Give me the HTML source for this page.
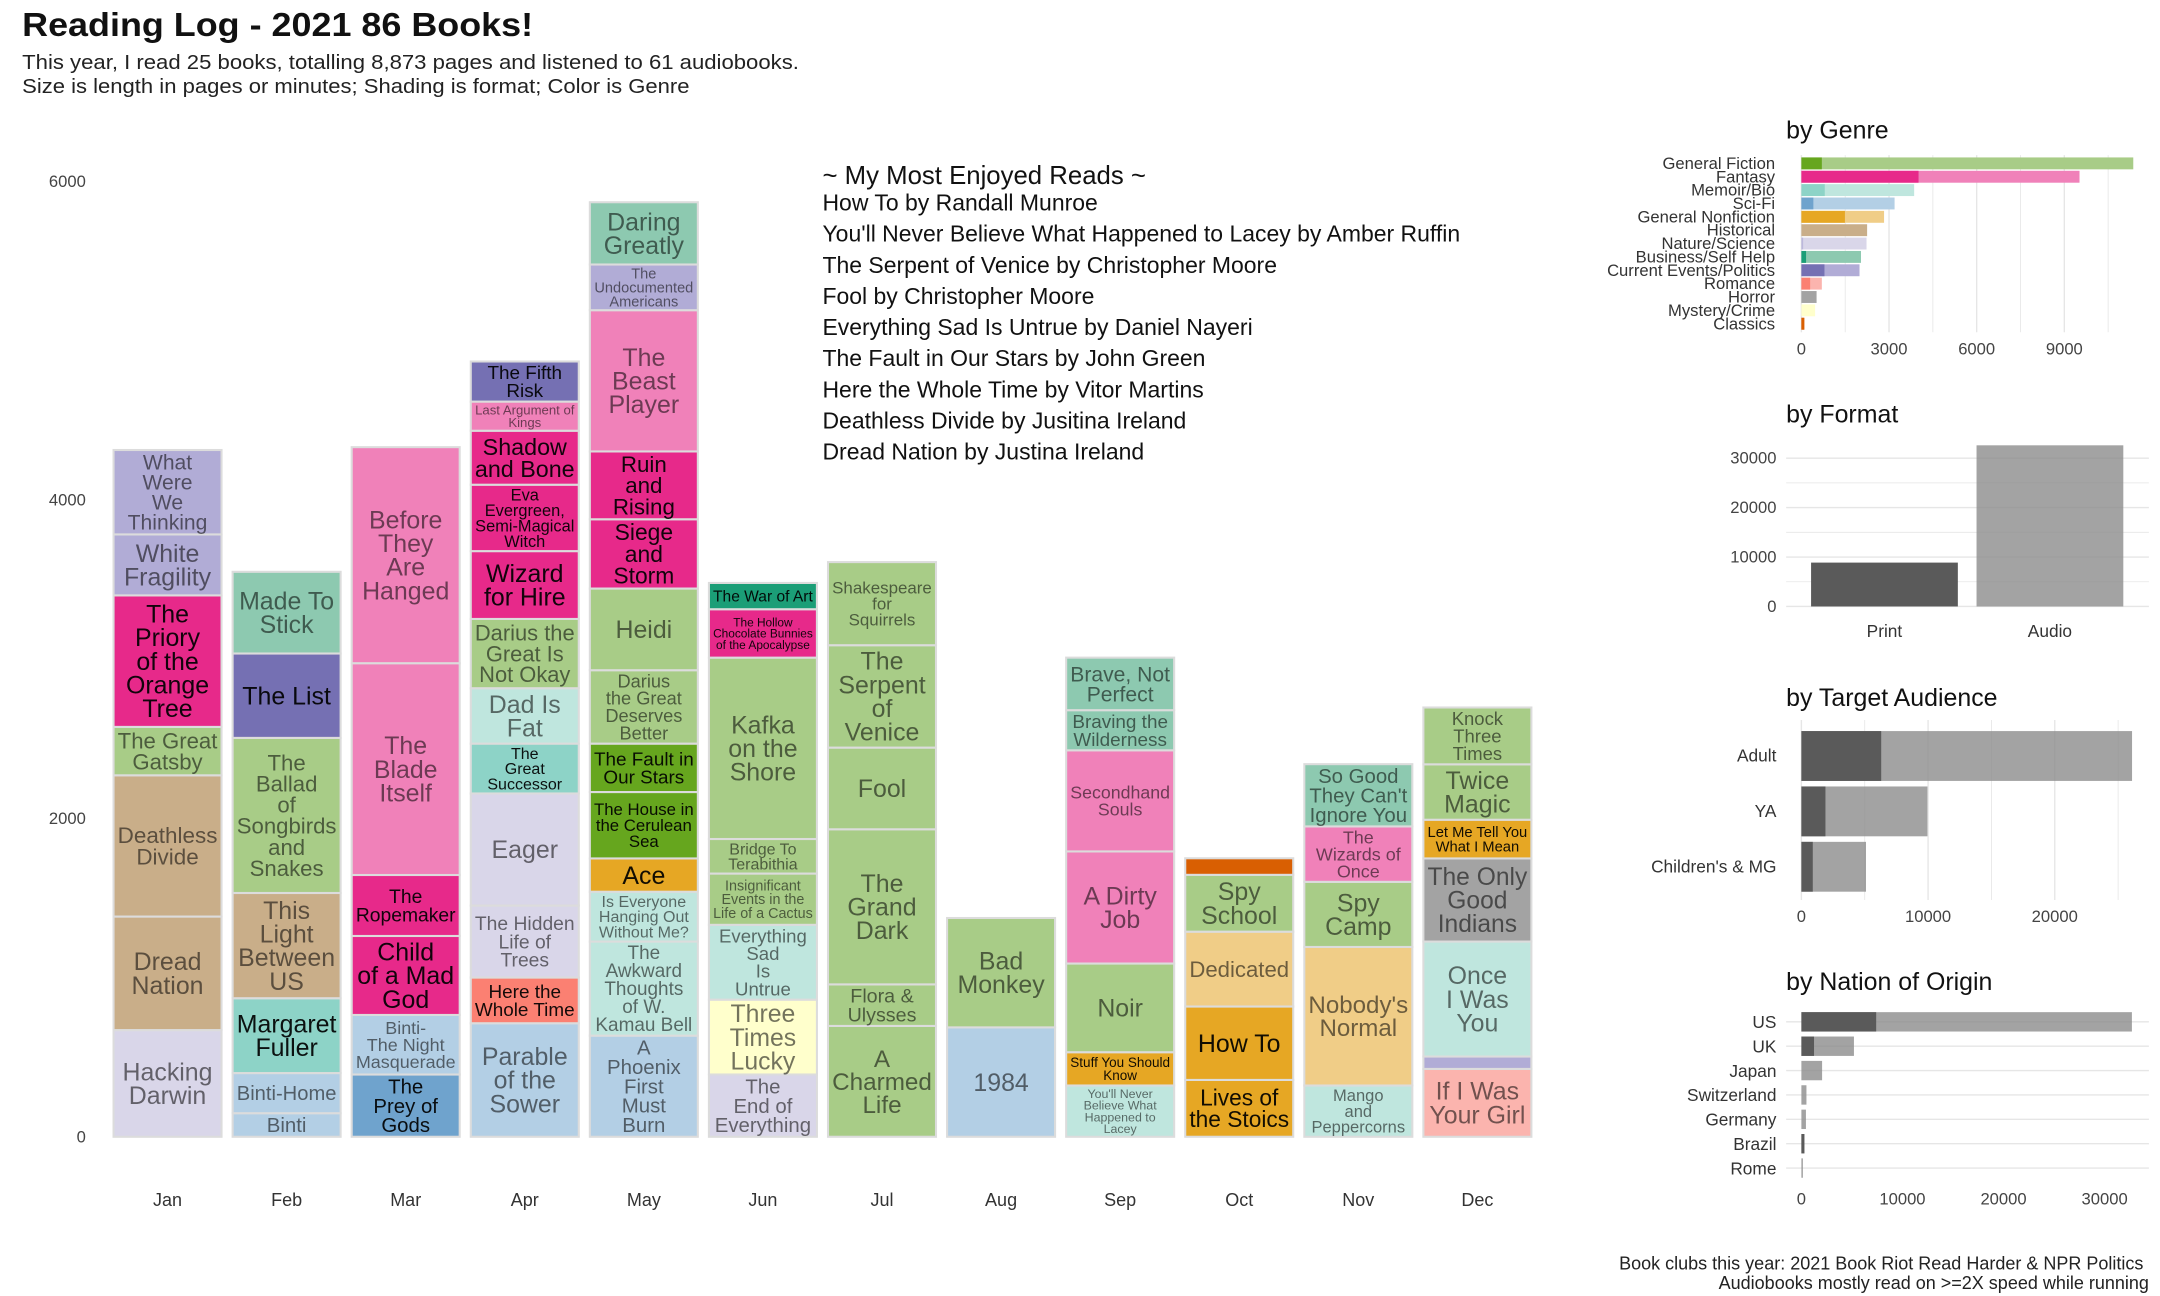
<!DOCTYPE html>
<html><head><meta charset="utf-8"><title>Reading Log 2021</title>
<style>
html,body{margin:0;padding:0;background:#fff;}
svg{display:block;font-family:"Liberation Sans",sans-serif;}
</style></head>
<body>
<svg id="root" width="2160" height="1296" viewBox="0 0 1560 936" xmlns="http://www.w3.org/2000/svg">
  <text x="16" y="26" font-size="24" font-weight="bold" fill="#111" textLength="369" lengthAdjust="spacingAndGlyphs">Reading Log - 2021 86 Books!</text>
  <text x="16" y="50" font-size="15" fill="#222" textLength="561" lengthAdjust="spacingAndGlyphs">This year, I read 25 books, totalling 8,873 pages and listened to 61 audiobooks.</text>
  <text x="16" y="67" font-size="15" fill="#222" textLength="482" lengthAdjust="spacingAndGlyphs">Size is length in pages or minutes; Shading is format; Color is Genre</text>
  <g id="main"></g>
  <g id="enjoyed"></g>
  <g id="genre"></g>
  <g id="format"></g>
  <g id="audience"></g>
  <g id="nation"></g>
  <text x="1548" y="917" font-size="13" fill="#222" text-anchor="end">Book clubs this year: 2021 Book Riot Read Harder &amp; NPR Politics</text>
  <text x="1552" y="931" font-size="13" fill="#222" text-anchor="end">Audiobooks mostly read on &gt;=2X speed while running</text>
</svg>
<script>
// ---------- main chart data ----------
const months = ["Jan","Feb","Mar","Apr","May","Jun","Jul","Aug","Sep","Oct","Nov","Dec"];
const yTicks = [0,2000,4000,6000];
const bookMonth = [
0,0,0,0,0,0,0,
1,1,1,1,1,1,1,
2,2,2,2,2,2,
3,3,3,3,3,3,3,3,3,3,3,3,
4,4,4,4,4,4,4,4,4,4,4,4,4,
5,5,5,5,5,5,5,5,
6,6,6,6,6,6,
7,7,
8,8,8,8,8,8,8,
9,9,9,9,9,
10,10,10,10,10,
11,11,11,11,11,11,11];
const bookTitle = [
"Hacking\nDarwin","Dread\nNation","Deathless\nDivide","The Great\nGatsby","The\nPriory\nof the\nOrange\nTree","White\nFragility","What\nWere\nWe\nThinking",
"Binti","Binti-Home","Margaret\nFuller","This\nLight\nBetween\nUS","The\nBallad\nof\nSongbirds\nand\nSnakes","The List","Made To\nStick",
"The\nPrey of\nGods","Binti-\nThe Night\nMasquerade","Child\nof a Mad\nGod","The\nRopemaker","The\nBlade\nItself","Before\nThey\nAre\nHanged",
"Parable\nof the\nSower","Here the\nWhole Time","The Hidden\nLife of\nTrees","Eager","The\nGreat\nSuccessor","Dad Is\nFat","Darius the\nGreat Is\nNot Okay","Wizard\nfor Hire","Eva\nEvergreen,\nSemi-Magical\nWitch","Shadow\nand Bone","Last Argument of\nKings","The Fifth\nRisk",
"A\nPhoenix\nFirst\nMust\nBurn","The\nAwkward\nThoughts\nof W.\nKamau Bell","Is Everyone\nHanging Out\nWithout Me?","Ace","The House in\nthe Cerulean\nSea","The Fault in\nOur Stars","Darius\nthe Great\nDeserves\nBetter","Heidi","Siege\nand\nStorm","Ruin\nand\nRising","The\nBeast\nPlayer","The\nUndocumented\nAmericans","Daring\nGreatly",
"The\nEnd of\nEverything","Three\nTimes\nLucky","Everything\nSad\nIs\nUntrue","Insignificant\nEvents in the\nLife of a Cactus","Bridge To\nTerabithia","Kafka\non the\nShore","The Hollow\nChocolate Bunnies\nof the Apocalypse","The War of Art",
"A\nCharmed\nLife","Flora &\nUlysses","The\nGrand\nDark","Fool","The\nSerpent\nof\nVenice","Shakespeare\nfor\nSquirrels",
"1984","Bad\nMonkey",
"You'll Never\nBelieve What\nHappened to\nLacey","Stuff You Should\nKnow","Noir","A Dirty\nJob","Secondhand\nSouls","Braving the\nWilderness","Brave, Not\nPerfect",
"Lives of\nthe Stoics","How To","Dedicated","Spy\nSchool","",
"Mango\nand\nPeppercorns","Nobody's\nNormal","Spy\nCamp","The\nWizards of\nOnce","So Good\nThey Can't\nIgnore You",
"If I Was\nYour Girl","","Once\nI Was\nYou","The Only\nGood\nIndians","Let Me Tell You\nWhat I Mean","Twice\nMagic","Knock\nThree\nTimes"];
const bookPages = [
670,713,887,304,826,383,530,
148,252,470,661,974,530,513,
391,374,496,383,1330,1357,
713,287,452,704,313,348,435,426,417,339,183,252,
635,591,313,209,417,304,461,513,435,426,887,287,391,
391,470,470,322,217,1139,304,165,
696,261,974,513,643,522,
687,687,
322,209,557,704,635,252,330,
357,461,470,357,104,
322,870,409,348,391,
426,78,722,522,243,348,357];
const bookGenre = [
"nat","hist","hist","gf","fan","cur","cur",
"sci","sci","mem","hist","gf","cur","bus",
"sci","sci","fan","fan","fan","fan",
"sci","rom","nat","nat","mem","mem","gf","fan","fan","fan","fan","cur",
"sci","mem","mem","gnf","gf","gf","gf","gf","fan","fan","fan","cur","bus",
"nat","mys","mem","gf","gf","gf","fan","bus",
"gf","gf","gf","gf","gf","gf",
"sci","gf",
"mem","gnf","gf","fan","fan","bus","bus",
"gnf","gnf","gnf","gf","cla",
"mem","gnf","gf","fan","bus",
"rom","cur","mem","hor","gnf","gf","gf"];
const bookFormat = [
"A","A","A","A","P","A","A",
"A","A","P","A","A","P","A",
"P","A","P","P","A","A",
"A","P","A","A","P","A","A","P","P","P","A","P",
"A","A","A","P","P","P","A","A","P","P","A","A","A",
"A","A","A","A","A","A","P","P",
"A","A","A","A","A","A",
"A","A",
"A","P","A","A","A","A","A",
"P","P","A","A","P",
"A","A","A","A","A",
"A","A","A","A","P","A","A"];
const genreColor = {
 gf:["#66a61e","#a8cc87"], fan:["#e7298a","#f081b9"], mem:["#8dd3c7","#bfe6de"], sci:["#6fa3cd","#b3cfe5"],
 gnf:["#e6a724","#f0cd87"], hist:["#b5986a","#c9ae89"], nat:["#bcb8db","#d9d6e9"], bus:["#1b9e77","#8dc9b0"],
 cur:["#7570b3","#b1acd6"], rom:["#fb8072","#fbb4ae"], hor:["#777777","#a3a3a3"], mys:["#ffffb3","#ffffcc"], cla:["#d95f02","#e8864a"]
};

// ---------- side panel data ----------
const genreNames = ["General Fiction","Fantasy","Memoir/Bio","Sci-Fi","General Nonfiction","Historical","Nature/Science","Business/Self Help","Current Events/Politics","Romance","Horror","Mystery/Crime","Classics"];
const genreKeys = ["gf","fan","mem","sci","gnf","hist","nat","bus","cur","rom","hor","mys","cla"];
const genrePrint = [700,4010,800,410,1490,0,60,160,790,300,0,0,100];
const genreTotal = [11360,9520,3860,3190,2830,2250,2230,2040,1990,700,520,470,100];
const genreTicks = [0,3000,6000,9000];
const formatNames = ["Print","Audio"];
const formatValues = [8873,32600];
const formatTicks = [0,10000,20000,30000];
const audienceNames = ["Adult","YA","Children's & MG"];
const audiencePrint = [6300,1900,900];
const audienceTotal = [26100,9950,5100];
const audienceTicks = [0,10000,20000];
const nationNames = ["US","UK","Japan","Switzerland","Germany","Brazil","Rome"];
const nationPrint = [7400,1250,0,0,0,300,0];
const nationTotal = [32700,5200,2050,500,450,300,150];
const nationTicks = [0,10000,20000,30000];
const enjoyed = ["How To by Randall Munroe","You'll Never Believe What Happened to Lacey by Amber Ruffin","The Serpent of Venice by Christopher Moore","Fool by Christopher Moore","Everything Sad Is Untrue by Daniel Nayeri","The Fault in Our Stars by John Green","Here the Whole Time by Vitor Martins","Deathless Divide by Jusitina Ireland","Dread Nation by Justina Ireland"];

const NS="http://www.w3.org/2000/svg";
function mk(tag, attrs, parent){const e=document.createElementNS(NS,tag);for(const k in attrs)e.setAttribute(k,attrs[k]);parent.appendChild(e);return e;}

// ---------- main chart ----------
const main=document.getElementById('main');
const y0=821, pxPer=0.115;
const yScale=v=>y0-v*pxPer;
const xCenter=i=>121+i*86;
const barW=78;
yTicks.forEach(t=>{
  const e=mk('text',{x:62,y:yScale(t)+4,'font-size':12,fill:'#444','text-anchor':'end'},main);
  
  
  e.textContent=t;
});
months.forEach((m,i)=>{
  const e=mk('text',{x:xCenter(i),y:871,'font-size':13,fill:'#333','text-anchor':'middle'},main);
  
  
  e.textContent=m;
});
const cum=new Array(months.length).fill(0);
bookTitle.forEach((title,i)=>{
  const m=bookMonth[i];
  const base=cum[m], top=base+bookPages[i];
  cum[m]=top;
  const yT=yScale(top), yB=yScale(base), h=yB-yT;
  const x=xCenter(m)-barW/2;
  const col=genreColor[bookGenre[i]][bookFormat[i]==="P"?0:1];
  const r=mk('rect',{x:x,y:yT,width:barW,height:h,fill:col,stroke:'#dcdcdc','stroke-width':1.5},main);
  
  
  if(!title) return;
  const lines=title.split("\n");
  const g=mk('text',{'text-anchor':'middle',fill:'#000','fill-opacity':bookFormat[i]==="P"?0.92:0.55,'font-size':10},main);
  
  
  const tspans=lines.map(l=>{const t=mk('tspan',{x:xCenter(m)},g);t.textContent=l;return t;});
  let maxW=0;tspans.forEach(t=>{maxW=Math.max(maxW,t.getComputedTextLength());});
  const lh=0.95;
  let fs=Math.min(18,(barW-6)/maxW*10,(h-3)/(lines.length*lh));
  fs=Math.max(fs,5);
  g.setAttribute('font-size',fs.toFixed(2));
  const cy=(yT+yB)/2;
  const startY=cy-(lines.length-1)*lh*fs/2+fs*0.35;
  tspans.forEach((t,k)=>t.setAttribute('y',(startY+k*lh*fs).toFixed(2)));
});

// ---------- enjoyed list ----------
const enj=document.getElementById('enjoyed');
const hd=mk('text',{x:594,y:133,'font-size':18.6,fill:'#111'},enj);


hd.textContent="~ My Most Enjoyed Reads ~";
enjoyed.forEach((s,i)=>{
  const e=mk('text',{x:594,y:152+i*22.5,'font-size':16.6,fill:'#111'},enj);
  
  
  e.textContent=s;
});

function panelTitle(g,txt,y){const e=mk('text',{x:1290,y:y,'font-size':18,fill:'#111'},g);
  
  
  e.textContent=txt;}

// ---------- genre panel ----------
(function(){
  const g=document.getElementById('genre');
  panelTitle(g,"by Genre",100);
  const x0=1301, k=63.3/3000;
  const gx=v=>x0+v*k;
  for(let v=0;v<=10500;v+=1500){mk('line',{x1:gx(v),x2:gx(v),y1:112,y2:240,stroke:'#e6e6e6','stroke-width':v%3000===0?1:0.6},g);}
  genreTicks.forEach(t=>{const e=mk('text',{x:gx(t),y:256,'font-size':12,fill:'#444','text-anchor':'middle'},g);
    
    
    e.textContent=t;});
  genreNames.forEach((n,i)=>{
    const cy=118+i*9.65;
    const l=mk('text',{x:1282,y:cy+4,'font-size':12,fill:'#333','text-anchor':'end'},g);
    
    
    l.textContent=n;
    const c=genreColor[genreKeys[i]];
    const a=mk('rect',{x:gx(0),y:cy-4.3,width:gx(genreTotal[i])-gx(0),height:8.6,fill:c[1]},g);
    
    
    const p=mk('rect',{x:gx(0),y:cy-4.3,width:gx(genrePrint[i])-gx(0),height:8.6,fill:c[0]},g);
    
    
  });
})();

// ---------- format panel ----------
(function(){
  const g=document.getElementById('format');
  panelTitle(g,"by Format",305);
  const fy=v=>438-v*0.00357;
  for(let v=0;v<=30000;v+=5000){mk('line',{x1:1290,x2:1552,y1:fy(v),y2:fy(v),stroke:'#e6e6e6','stroke-width':v%10000===0?1:0.6},g);}
  formatTicks.forEach(t=>{const e=mk('text',{x:1283,y:fy(t)+4,'font-size':12,fill:'#444','text-anchor':'end'},g);
    
    
    e.textContent=t;});
  formatNames.forEach((n,i)=>{
    const cx=1361+i*119.5;
    const r=mk('rect',{x:cx-53,y:fy(formatValues[i]),width:106,height:fy(0)-fy(formatValues[i]),fill:i===0?'#5a5a5a':'#8c8c8c','fill-opacity':i===0?1:0.8},g);
    
    
    const l=mk('text',{x:cx,y:460,'font-size':12.5,fill:'#333','text-anchor':'middle'},g);
    
    
    l.textContent=n;
  });
})();

// ---------- audience panel ----------
(function(){
  const g=document.getElementById('audience');
  panelTitle(g,"by Target Audience",510);
  const ax=v=>1301+v*0.00915;
  for(let v=0;v<=25000;v+=5000){mk('line',{x1:ax(v),x2:ax(v),y1:520,y2:650,stroke:'#e6e6e6','stroke-width':v%10000===0?1:0.6},g);}
  audienceTicks.forEach(t=>{const e=mk('text',{x:ax(t),y:666,'font-size':12,fill:'#444','text-anchor':'middle'},g);
    
    
    e.textContent=t;});
  audienceNames.forEach((n,i)=>{
    const cy=546+i*40;
    const l=mk('text',{x:1283,y:cy+4,'font-size':12.5,fill:'#333','text-anchor':'end'},g);
    
    
    l.textContent=n;
    const a=mk('rect',{x:ax(0),y:cy-18,width:ax(audienceTotal[i])-ax(0),height:36,fill:'#8c8c8c','fill-opacity':0.8},g);
    
    
    const p=mk('rect',{x:ax(0),y:cy-18,width:ax(audiencePrint[i])-ax(0),height:36,fill:'#5a5a5a'},g);
    
    
  });
})();

// ---------- nation panel ----------
(function(){
  const g=document.getElementById('nation');
  panelTitle(g,"by Nation of Origin",715);
  const nx=v=>1301+v*0.0073;
  nationTicks.forEach(t=>{const e=mk('text',{x:nx(t),y:870,'font-size':12,fill:'#444','text-anchor':'middle'},g);
    
    
    e.textContent=t;});
  nationNames.forEach((n,i)=>{
    const cy=738+i*17.6;
    mk('line',{x1:1290,x2:1552,y1:cy,y2:cy,stroke:'#e6e6e6','stroke-width':1},g);
    const l=mk('text',{x:1283,y:cy+4.5,'font-size':12.5,fill:'#333','text-anchor':'end'},g);
    
    
    l.textContent=n;
    const a=mk('rect',{x:nx(0),y:cy-7,width:Math.max(0.6,nx(nationTotal[i])-nx(0)),height:14,fill:'#8c8c8c','fill-opacity':0.8},g);
    
    
    const p=mk('rect',{x:nx(0),y:cy-7,width:nx(nationPrint[i])-nx(0),height:14,fill:'#5a5a5a'},g);
    
    
  });
})();
</script>
</body></html>
